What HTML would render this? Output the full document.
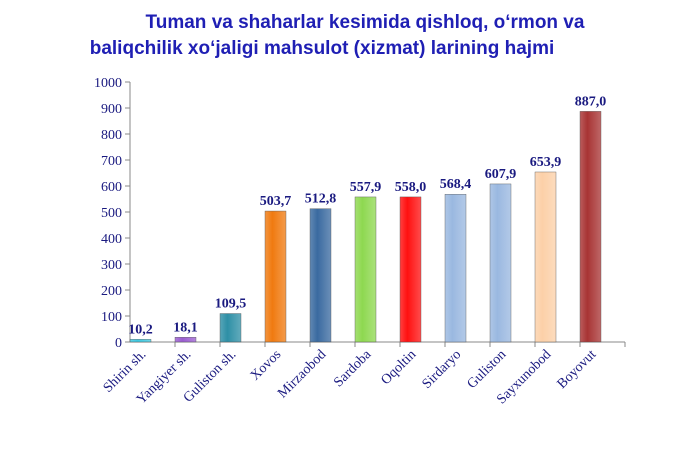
<!DOCTYPE html>
<html><head><meta charset="utf-8"><style>
body{margin:0;background:#fff;width:684px;height:451px;overflow:hidden}
</style></head><body>
<svg id="c" width="684" height="451" xmlns="http://www.w3.org/2000/svg">
<defs></defs>
<text x="365" y="28" text-anchor="middle" font-family="Liberation Sans, sans-serif" font-weight="bold" font-size="19" fill="#1f1fb4">Tuman va shaharlar kesimida qishloq, o‘rmon va</text>
<text x="322" y="54" text-anchor="middle" font-family="Liberation Sans, sans-serif" font-weight="bold" font-size="19" fill="#1f1fb4">baliqchilik xo‘jaligi mahsulot (xizmat) larining hajmi</text>
</svg>
<script>
const categories=["Shirin sh.","Yangiyer sh.","Guliston sh.","Xovos","Mirzaobod","Sardoba","Oqoltin","Sirdaryo","Guliston","Sayxunobod","Boyovut"];
const values=[10.2,18.1,109.5,503.7,512.8,557.9,558.0,568.4,607.9,653.9,887.0];
const valueLabels=["10,2","18,1","109,5","503,7","512,8","557,9","558,0","568,4","607,9","653,9","887,0"];
const colors=["#3cc8e0","#9a5cd0","#2e8fa6","#f07a10","#3a6aa0","#8ed850","#ff1010","#9ab8e0","#9ab8e0","#fcd0a8","#a83434"];
const yTicks=[0,100,200,300,400,500,600,700,800,900,1000];
const svg=document.getElementById('c'),NS="http://www.w3.org/2000/svg";
const x0=130,y0=342,cw=45,bw=21,ppu=0.26;
const y=v=>y0-v*ppu, x=i=>x0+i*cw;
function mk(t,a,p){const e=document.createElementNS(NS,t);for(const k in a)e.setAttribute(k,a[k]);(p||svg).appendChild(e);return e;}
const defs=svg.querySelector('defs');
yTicks.forEach(t=>{
 const tl=mk('line',{x1:x0-5,x2:x0,y1:y(t),y2:y(t),stroke:'#888'});
 
 
 const tx=mk('text',{x:x0-8,y:y(t)+5,'text-anchor':'end','font-family':'Liberation Serif, serif','font-size':'14',fill:'#1a1a80'});
 tx.textContent=t;
 
 
});
const ya=mk('line',{x1:x0,x2:x0,y1:y(1000),y2:y0,stroke:'#888'});


const xa=mk('line',{x1:x0,x2:x0+cw*categories.length,y1:y0,y2:y0,stroke:'#888'});


categories.forEach((c,i)=>{
 const g=mk('linearGradient',{id:'g'+i,x1:0,x2:1,y1:0,y2:0},defs);
 mk('stop',{offset:'0','stop-color':colors[i],'stop-opacity':'0.8'},g);
 mk('stop',{offset:'0.35','stop-color':colors[i]},g);
 mk('stop',{offset:'1','stop-color':colors[i],'stop-opacity':'0.75'},g);
 const tk=mk('line',{x1:x(i+1),x2:x(i+1),y1:y0,y2:y0+5,stroke:'#888'});
 
 
 const r=mk('rect',{x:x(i),y:y(values[i]),width:bw,height:values[i]*ppu,fill:'url(#g'+i+')',stroke:'#555','stroke-width':'0.4'});
 
 
 const vl=mk('text',{x:x(i)+bw/2,y:y(values[i])-6,'text-anchor':'middle','font-family':'Liberation Serif, serif','font-weight':'bold','font-size':'14',fill:'#1a1a80'});
 vl.textContent=valueLabels[i];
 
 
 const cx=x(i)+bw/2+6, cy=y0+13;
 const cl=mk('text',{x:cx,y:cy,'text-anchor':'end','font-family':'Liberation Serif, serif','font-size':'14',fill:'#1a1a80',transform:'rotate(-45 '+cx+' '+cy+')'});
 cl.textContent=c;
 
 
});
</script>
</body></html>
